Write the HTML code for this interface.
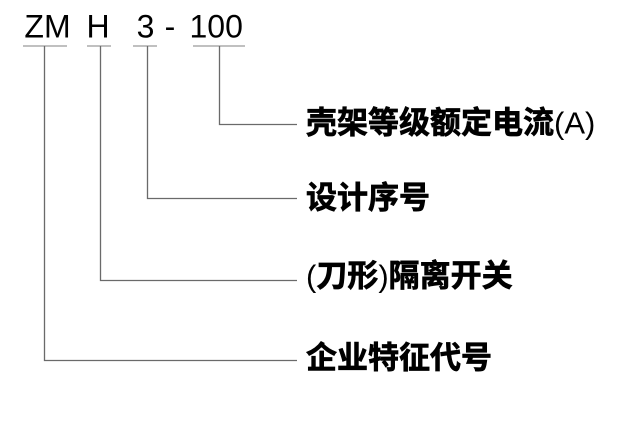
<!DOCTYPE html>
<html><head><meta charset="utf-8"><style>
html,body{margin:0;padding:0;background:#fff;}
svg{display:block;}
.code{font-family:"Liberation Sans",sans-serif;font-size:32px;fill:#000;}
.lab{font-family:"Liberation Sans","Noto Sans CJK SC",sans-serif;font-size:31px;font-weight:700;fill:#000;stroke:#000;stroke-width:0.7px;}
.lat{font-weight:400;stroke:none;}
</style></head><body>
<svg width="640" height="430" viewBox="0 0 640 430" xmlns="http://www.w3.org/2000/svg">
<rect width="640" height="430" fill="#fff"/>
<text class="code" x="24.4" y="37.5">ZM</text>
<text class="code" x="86.5" y="37.5">H</text>
<text class="code" x="136.6" y="37.5">3</text>
<text class="code" x="164.6" y="37.5">-</text>
<text class="code" x="189.5" y="37.5">100</text>
<g stroke="#9a9a9a" stroke-width="1.3" fill="none">
<line x1="23" y1="46" x2="67" y2="46"/>
<line x1="87" y1="46" x2="111" y2="46"/>
<line x1="133" y1="46" x2="157" y2="46"/>
<line x1="193" y1="46" x2="245" y2="46"/>
</g>
<g stroke="#6a6a6a" stroke-width="1.3" fill="none">
<polyline points="219.5,46 219.5,124.5 297,124.5"/>
<polyline points="147.5,46 147.5,198.5 297,198.5"/>
<polyline points="100.5,46 100.5,280.5 297,280.5"/>
<polyline points="44.5,46 44.5,360.5 297,360.5"/>
</g>
<text class="lab" x="306" y="133.5">壳架等级额定电流<tspan class="lat">(A)</tspan></text>
<text class="lab" x="306" y="208.5">设计序号</text>
<text class="lab" x="306" y="286.5"><tspan class="lat">(</tspan>刀形<tspan class="lat">)</tspan>隔离开关</text>
<text class="lab" x="306" y="368.5">企业特征代号</text>
</svg>
</body></html>
